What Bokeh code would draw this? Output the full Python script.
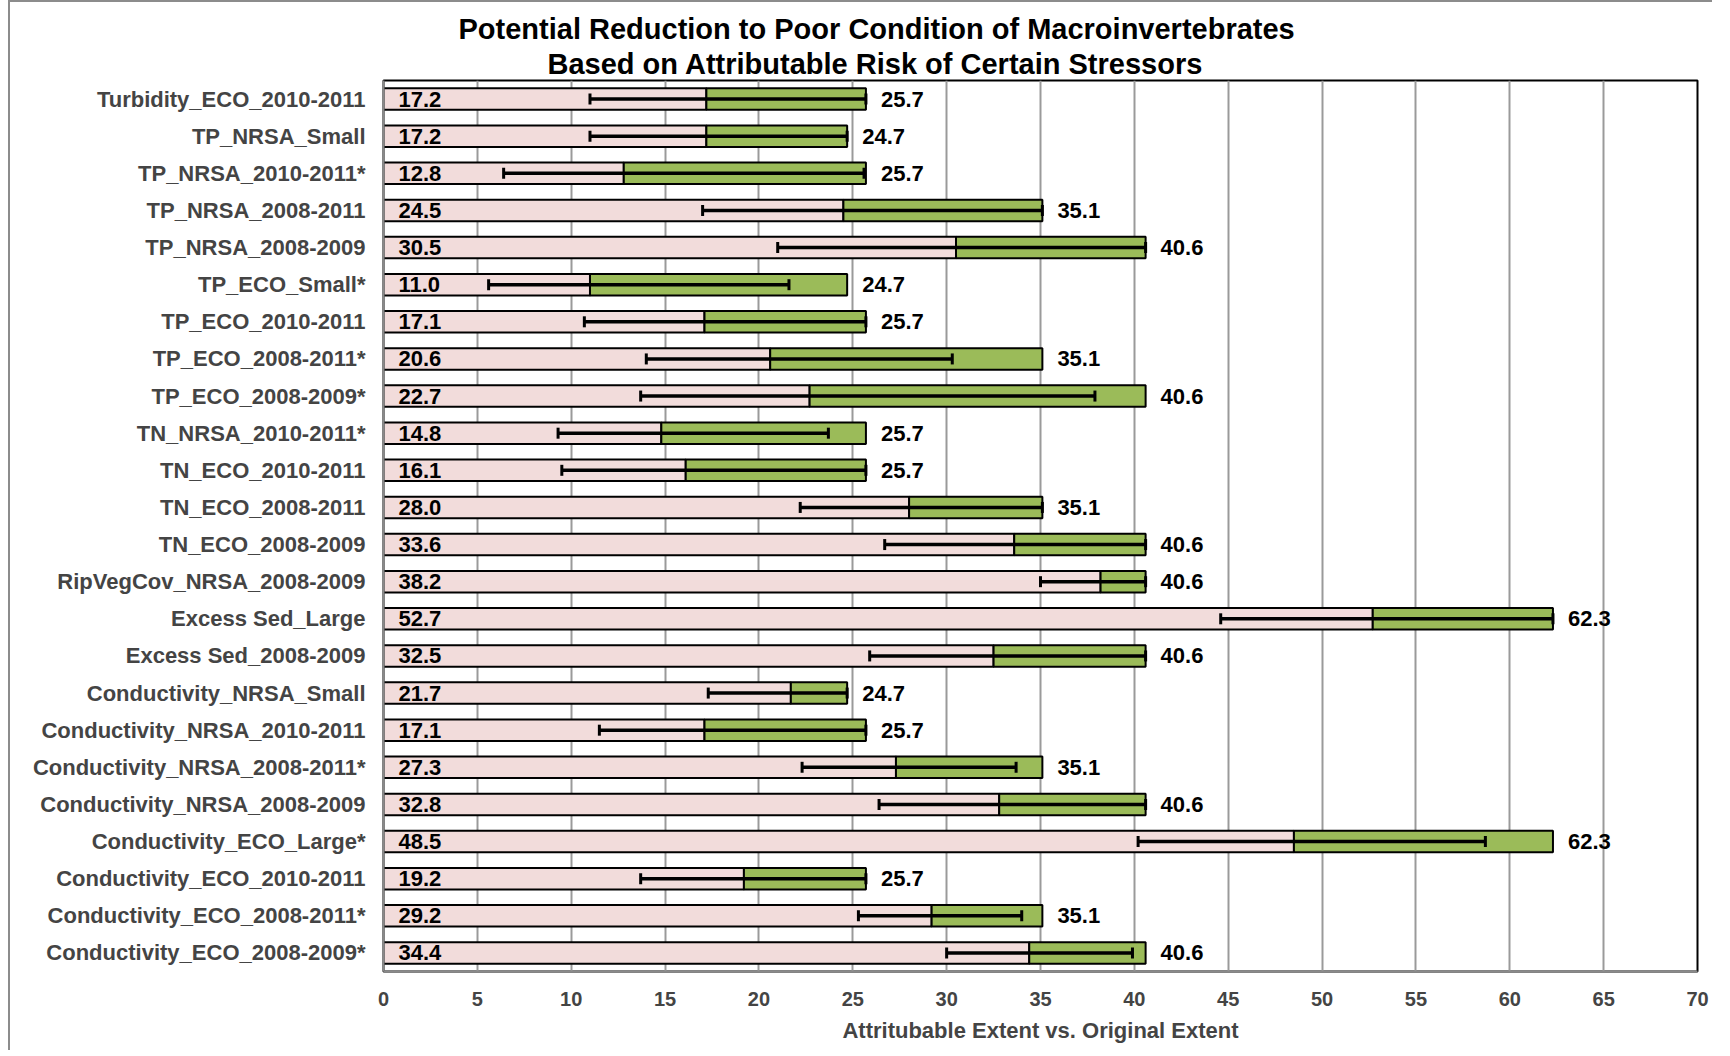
import numpy as np
from bokeh.plotting import figure
from bokeh.models import (FactorRange, Range1d, ColumnDataSource, Title, SingleIntervalTicker)
from bokeh.embed import file_html
from bokeh.resources import INLINE
from bokeh.core.properties import value

categories = [
    "Turbidity_ECO_2010-2011", "TP_NRSA_Small", "TP_NRSA_2010-2011*", "TP_NRSA_2008-2011",
    "TP_NRSA_2008-2009", "TP_ECO_Small*", "TP_ECO_2010-2011", "TP_ECO_2008-2011*",
    "TP_ECO_2008-2009*", "TN_NRSA_2010-2011*", "TN_ECO_2010-2011", "TN_ECO_2008-2011",
    "TN_ECO_2008-2009", "RipVegCov_NRSA_2008-2009", "Excess Sed_Large", "Excess Sed_2008-2009",
    "Conductivity_NRSA_Small", "Conductivity_NRSA_2010-2011", "Conductivity_NRSA_2008-2011*",
    "Conductivity_NRSA_2008-2009", "Conductivity_ECO_Large*", "Conductivity_ECO_2010-2011",
    "Conductivity_ECO_2008-2011*", "Conductivity_ECO_2008-2009*",
]
attributable_extent = [17.2, 17.2, 12.8, 24.5, 30.5, 11.0, 17.1, 20.6, 22.7, 14.8, 16.1, 28.0,
                       33.6, 38.2, 52.7, 32.5, 21.7, 17.1, 27.3, 32.8, 48.5, 19.2, 29.2, 34.4]
original_extent = [25.7, 24.7, 25.7, 35.1, 40.6, 24.7, 25.7, 35.1, 40.6, 25.7, 25.7, 35.1,
                   40.6, 40.6, 62.3, 40.6, 24.7, 25.7, 35.1, 40.6, 62.3, 25.7, 35.1, 40.6]
ci_lower = [11.0, 11.0, 6.4, 17.0, 21.0, 5.6, 10.7, 14.0, 13.7, 9.3, 9.5, 22.2,
            26.7, 35.0, 44.6, 25.9, 17.3, 11.5, 22.3, 26.4, 40.2, 13.7, 25.3, 30.0]
ci_upper = [25.7, 24.7, 25.6, 35.1, 40.6, 21.6, 25.7, 30.3, 37.9, 23.7, 25.7, 35.1,
            40.6, 40.6, 62.3, 40.6, 24.7, 25.7, 33.7, 40.6, 58.7, 25.7, 34.0, 39.9]
title_lines = ["Potential Reduction to Poor Condition of Macroinvertebrates",
               "Based on Attributable  Risk of Certain Stressors"]
x_axis_title = "Attritubable Extent vs. Original Extent"
x_ticks_interval = 5

FONT = "Liberation Sans"

source = ColumnDataSource(dict(
    cat=categories,
    attr=attributable_extent,
    orig=original_extent,
    zero=[0] * len(categories),
    lower=ci_lower,
    upper=ci_upper,
    attr_txt=[f"{v:.1f}" for v in attributable_extent],
    orig_txt=[f"{v:.1f}" for v in original_extent],
))

p = figure(width=1704, height=1050,
           y_range=FactorRange(factors=list(reversed(categories)), range_padding=0),
           x_range=Range1d(0, 70),
           output_backend="svg", toolbar_location=None,
           min_border_left=373, min_border_right=17, min_border_top=78, min_border_bottom=81)
# chart-area border (left and top), as in the original
p.styles = {"margin-left": "8px",
            "border-left": "2px solid #8c8c8c",
            "border-top": "2px solid #8c8c8c"}

p.hbar(y="cat", left="zero", right="attr", height=0.58, source=source,
       fill_color="#F2DCDB", line_color="black", line_width=2)
p.hbar(y="cat", left="attr", right="orig", height=0.58, source=source,
       fill_color="#9BBB59", line_color="black", line_width=2)

# Error bars
p.segment(x0="lower", y0="cat", x1="upper", y1="cat", source=source,
          line_color="black", line_width=3.5)
p.scatter(x="lower", y="cat", source=source, marker="dash", angle=np.pi / 2, size=11,
          line_color="black", line_width=3)
p.scatter(x="upper", y="cat", source=source, marker="dash", angle=np.pi / 2, size=11,
          line_color="black", line_width=3)

p.text(x="zero", y="cat", text="attr_txt", source=source, x_offset=15,
       text_baseline="middle", text_align="left", text_color="black",
       text_font=value(FONT), text_font_style="bold", text_font_size="22px")
p.text(x="orig", y="cat", text="orig_txt", source=source, x_offset=15,
       text_baseline="middle", text_align="left", text_color="black",
       text_font=value(FONT), text_font_style="bold", text_font_size="22px")

# Title (two lines; first added sits nearest the frame)
p.add_layout(Title(text=title_lines[1], align="left", offset=164, standoff=2,
                   text_font=FONT, text_font_style="bold", text_font_size="29px",
                   text_color="black"), "above")
p.add_layout(Title(text=title_lines[0], align="left", offset=75, standoff=0,
                   text_font=FONT, text_font_style="bold", text_font_size="29px",
                   text_color="black"), "above")

# Axes
p.xaxis.ticker = SingleIntervalTicker(interval=x_ticks_interval)
p.xaxis.axis_label = x_axis_title
p.xaxis.axis_label_text_font = FONT
p.xaxis.axis_label_text_font_style = "bold"
p.xaxis.axis_label_text_font_size = "22px"
p.xaxis.axis_label_standoff = 9
p.xaxis.major_label_text_font = FONT
p.xaxis.major_label_text_font_style = "bold"
p.xaxis.major_label_text_font_size = "20px"
p.xaxis.major_label_standoff = 20
p.xaxis.major_tick_out = 0
p.xaxis.major_tick_in = 0
p.xaxis.minor_tick_out = 0
p.xaxis.minor_tick_in = 0
p.xaxis.axis_line_color = "#8a8a8a"
p.xaxis.axis_line_width = 2

p.yaxis.major_label_text_font = FONT
p.yaxis.major_label_text_font_style = "bold"
p.yaxis.major_label_text_font_size = "22px"
p.yaxis.major_label_standoff = 18
p.yaxis.major_tick_out = 0
p.yaxis.major_tick_in = 0
p.yaxis.axis_line_color = "#8a8a8a"
p.yaxis.axis_line_width = 2

p.xgrid.grid_line_color = "#9a9a9a"
p.xgrid.grid_line_width = 2
p.ygrid.grid_line_color = None

p.outline_line_color = "black"
p.outline_line_width = 2
p.background_fill_color = "white"
p.border_fill_color = "white"

open("out.html", "w").write(file_html(p, INLINE))
